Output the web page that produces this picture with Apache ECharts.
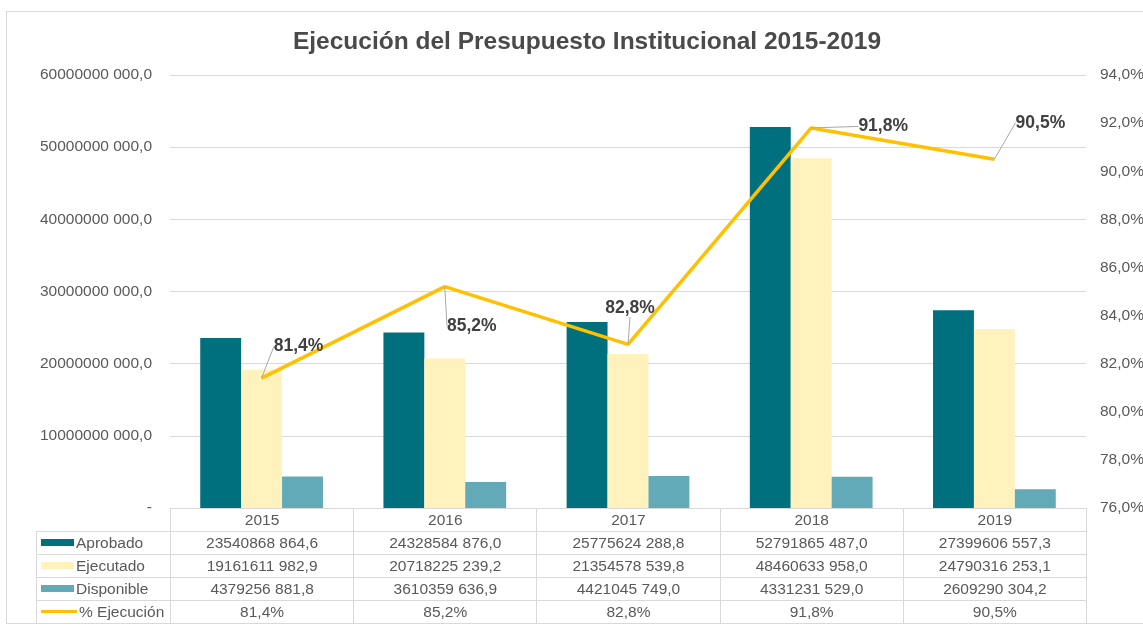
<!DOCTYPE html>
<html>
<head>
<meta charset="utf-8">
<script src="https://cdn.jsdelivr.net/npm/echarts@6/dist/echarts.min.js"></script>
<style>
  body { margin: 0; background: #fff; font-family: 'Liberation Sans', Arial, sans-serif; }
  #wrap { position: relative; width: 1143px; height: 627px; overflow: hidden; }
  #frame { position: absolute; left: 6px; top: 11px; width: 1160px; height: 613px; border: 1px solid #d9d9d9; box-sizing: border-box; }
  #chart { position: absolute; left: 0; top: 0; width: 1143px; height: 627px; }
  #tbl { position: absolute; left: 36px; top: 508px; border-collapse: collapse; table-layout: fixed; color: #595959; font-size: 15.5px; }
  #tbl td { border: 1px solid #d9d9d9; height: 22px; padding: 0; text-align: center; white-space: nowrap; line-height: 20px; overflow: hidden; }
  #tbl td.lab { text-align: left; padding-left: 4px; }
  #tbl td.blank { border: none; }
  .key { display: inline-block; width: 33px; vertical-align: middle; margin-right: 2px; position: relative; top: -1px; }
</style>
</head>
<body>
<div id="wrap">
  <div id="frame"></div>
  <div id="chart"></div>
  <table id="tbl"></table>
</div>
<script>
// data
const years = ['2015', '2016', '2017', '2018', '2019']
const aprobado = [23540868864.6, 24328584876.0, 25775624288.8, 52791865487.0, 27399606557.3]
const ejecutado = [19161611982.9, 20718225239.2, 21354578539.8, 48460633958.0, 24790316253.1]
const disponible = [4379256881.8, 3610359636.9, 4421045749.0, 4331231529.0, 2609290304.2]
const ejecucion = [81.4, 85.2, 82.8, 91.8, 90.5]

// label nudges for the % line (layout only)
const labelShift = [[37, -17], [27, 54], [2, -22], [72, 13], [46, -22]]

const colors = {
  aprobado: '#00707F',
  ejecutado: '#FFF2BC',
  disponible: '#63AAB8',
  line: '#FFC000'
}

function fmtNum(v) {
  let s = v.toFixed(1).split('.')
  let i = s[0]
  if (i.length > 3) i = i.slice(0, -3) + ' ' + i.slice(-3)
  return i + ',' + s[1]
}
function fmtPct(v) {
  return v.toFixed(1).replace('.', ',') + '%'
}

const chart = echarts.init(document.getElementById('chart'))

const option = {
  animation: false,
  textStyle: { fontFamily: 'Liberation Sans, Arial, sans-serif' },
  title: {
    text: 'Ejecución del Presupuesto Institucional 2015-2019',
    left: 582,
    textAlign: 'center',
    top: 25,
    textStyle: { fontSize: 24.5, fontWeight: 'bold', color: '#4a4a4a' }
  },
  grid: { left: 170, right: 57, top: 75, bottom: 119, outerBoundsMode: 'none' },
  xAxis: {
    type: 'category',
    data: years,
    axisLine: { lineStyle: { color: '#d9d9d9' } },
    axisTick: { show: false },
    axisLabel: { show: false }
  },
  yAxis: [{
    type: 'value',
    min: 0,
    max: 60000000000,
    interval: 10000000000,
    axisLine: { show: false },
    axisTick: { show: false },
    splitLine: { lineStyle: { color: '#d9d9d9' } },
    axisLabel: {
      color: '#595959',
      fontSize: 15.5,
      margin: 18,
      formatter: function (v) { return v === 0 ? '-' : fmtNum(v) }
    }
  }, {
    type: 'value',
    min: 76,
    max: 94,
    interval: 2,
    axisLine: { show: false },
    axisTick: { show: false },
    splitLine: { show: false },
    axisLabel: {
      color: '#595959',
      fontSize: 15.5,
      margin: 14,
      formatter: fmtPct
    }
  }],
  series: [{
    name: 'Aprobado',
    type: 'bar',
    barGap: '0%',
    barCategoryGap: '33%',
    itemStyle: { color: colors.aprobado },
    data: aprobado
  }, {
    name: 'Ejecutado',
    type: 'bar',
    itemStyle: { color: colors.ejecutado },
    data: ejecutado
  }, {
    name: 'Disponible',
    type: 'bar',
    itemStyle: { color: colors.disponible },
    data: disponible
  }, {
    name: '% Ejecución',
    type: 'line',
    yAxisIndex: 1,
    symbol: 'circle',
    symbolSize: 1,
    lineStyle: { color: colors.line, width: 3.5 },
    itemStyle: { color: colors.line },
    label: {
      show: true,
      position: 'top',
      fontSize: 17.5,
      fontWeight: 'bold',
      color: '#404040',
      formatter: function (p) { return fmtPct(p.value) }
    },
    labelLine: { show: true, lineStyle: { color: '#a6a6a6', width: 1 } },
    labelLayout: function (p) {
      let d = labelShift[p.dataIndex]
      return { dx: d[0], dy: d[1] }
    },
    data: ejecucion
  }]
}

chart.setOption(option)

// data table under the plot
const tbl = document.getElementById('tbl')
const colW = 183.2
let html = '<colgroup><col style="width:134px">'
years.forEach(() => { html += '<col style="width:' + colW + 'px">' })
html += '</colgroup><tr><td class="blank"></td>'
years.forEach(y => { html += '<td>' + y + '</td>' })
html += '</tr>'
const rows = [
  ['Aprobado', aprobado, fmtNum, '<span class="key" style="height:7px;background:' + colors.aprobado + '"></span>'],
  ['Ejecutado', ejecutado, fmtNum, '<span class="key" style="height:7px;background:' + colors.ejecutado + '"></span>'],
  ['Disponible', disponible, fmtNum, '<span class="key" style="height:7px;background:' + colors.disponible + '"></span>'],
  ['% Ejecución', ejecucion, fmtPct, '<span class="key" style="height:3px;width:36px;background:' + colors.line + '"></span>']
]
rows.forEach(r => {
  html += '<tr><td class="lab">' + r[3] + r[0] + '</td>'
  r[1].forEach(v => { html += '<td>' + r[2](v) + '</td>' })
  html += '</tr>'
})
tbl.innerHTML = html
</script>
</body>
</html>
